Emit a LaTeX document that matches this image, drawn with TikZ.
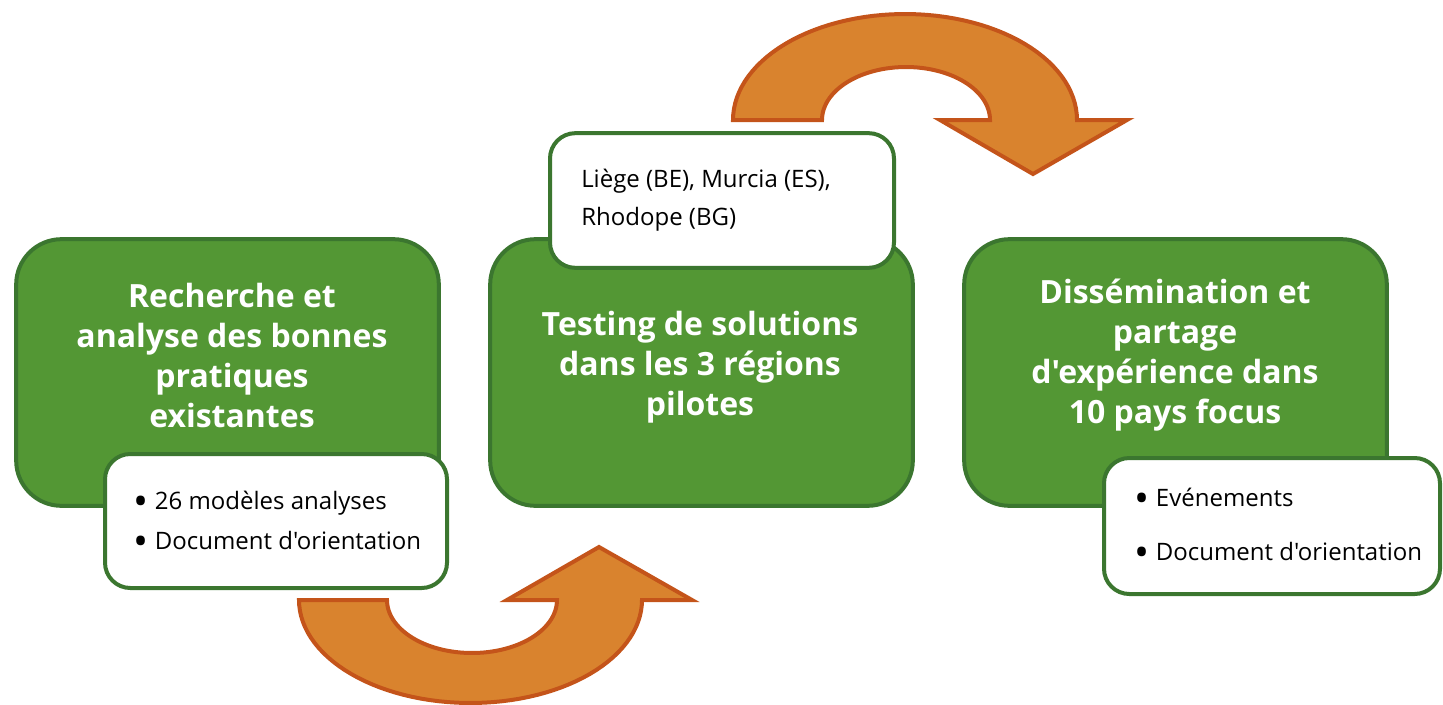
\documentclass[tikz,border=0pt]{standalone}
\usepackage{fontspec}
\setmainfont{Open Sans}[Ligatures=TeXOff]
\usepackage{tikz}

\definecolor{leaf}{RGB}{83,151,52}
\definecolor{leafdark}{RGB}{59,118,47}
\definecolor{amber}{RGB}{217,131,46}
\definecolor{amberdark}{RGB}{196,84,26}
\newcommand{\itm}{\raisebox{-0.235em}{\fontsize{30}{30}\selectfont\textbullet}\hspace{5pt}}

\begin{document}
\begin{tikzpicture}[
  x=0.75pt,y=-0.75pt,
  gbox/.style={draw=leafdark,fill=leaf,line width=3pt,rounded corners=34pt,
    minimum width=317pt,minimum height=200pt},
  wbox/.style={draw=leafdark,fill=white,line width=3pt,rounded corners=19pt},
  title/.style={text=white,align=center,inner sep=0pt,
    font=\bfseries\fontsize{24}{30}\selectfont},
  note/.style={anchor=west,align=left,inner sep=0pt},
  uarrow/.style={draw=amberdark,fill=amber,line width=3pt,line join=miter}
]
  \useasboundingbox (0,0) rectangle (1443,704);

  % curved arrows
  \path[uarrow] (299,600) -- plot[domain=180:360,samples=60] ({470.5+171.5*cos(\x)},{600-103*sin(\x)})
    -- (692,600) -- (599,547) -- (507,600) -- (557,600)
    -- plot[domain=360:180,samples=60] ({472+85*cos(\x)},{600-53*sin(\x)}) -- cycle;
  \path[uarrow] (733,120) -- plot[domain=180:0,samples=60] ({905+172*cos(\x)},{120-106*sin(\x)})
    -- (1127,120) -- (1033,174) -- (940,120) -- (990,120)
    -- plot[domain=0:180,samples=60] ({906+84*cos(\x)},{120-53*sin(\x)}) -- cycle;

  % green steps
  \node[gbox](g1) at (227.5,372.5){};
  \node[gbox](g2) at (701.5,372.5){};
  \node[gbox](g3) at (1175.5,372.5){};
  \node[title](t1) at (232,355){Recherche et\\analyse des bonnes\\pratiques\\existantes};
  \node[title](t2) at (700,367){Testing de solutions\\dans les 3 régions\\pilotes};
  \node[title](t3) at (1175,355){Dissémination et\\partage\\d'expérience dans\\10 pays focus};

  % white notes
  \node[wbox,minimum width=256.5pt,minimum height=100.5pt](w1) at (276,521){};
  \node[wbox,minimum width=258pt,minimum height=101pt](w2) at (722,200.5){};
  \node[wbox,minimum width=252pt,minimum height=102pt](w3) at (1272,526){};
  \node[note,font=\fontsize{18}{30}\selectfont](n1) at (133,523.5)
    {\itm 26 modèles analyses\\\itm Document d'orientation};
  \node[note,font=\fontsize{18}{28.5}\selectfont](n2) at (581,200)
    {Liège (BE), Murcia (ES),\\Rhodope (BG)};
  \node[note,font=\fontsize{18}{40.5}\selectfont](n3) at (1134,527)
    {\itm Evénements\\\itm Document d'orientation};
\end{tikzpicture}
\end{document}
